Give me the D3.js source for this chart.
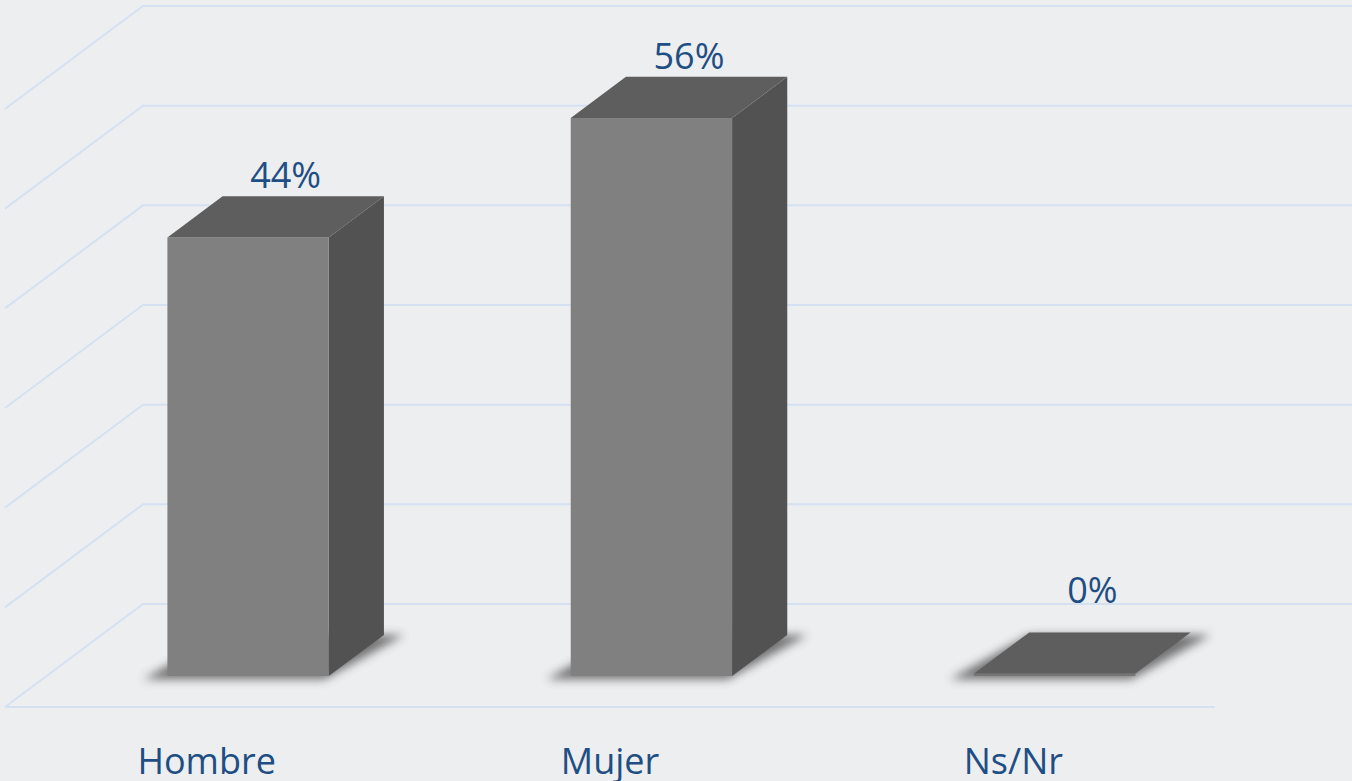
<!DOCTYPE html>
<html>
<head>
<meta charset="utf-8">
<script src="https://cdn.jsdelivr.net/npm/d3@7"></script>
<style>
  body { margin: 0; background: #edeef0; }
  text { font-family: "Open Sans", sans-serif; fill: #1f4e84; }
</style>
</head>
<body>
<svg width="1352" height="781"></svg>
<script>
var categories = ["Hombre", "Mujer", "Ns/Nr"];
var values = [44, 56, 0];
var valueLabels = ["44%", "56%", "0%"];
var gridTicks = [0, 10, 20, 30, 40, 50, 60];

var svg = d3.select("svg"),
    floorY = 707,
    depthX = 138, depthY = -103,
    barFront = 0.30, barBack = 0.70;

var x = d3.scaleBand()
    .domain(categories)
    .range([5, 1215])
    .paddingInner(0.6)
    .paddingOuter(0.3);

var h = d3.scaleLinear().domain([0, 60]).range([0, 598]);

// project a point: front x, value, depth fraction
function pt(px, v, f) {
    return [px + depthX * f, floorY + depthY * f - h(v)];
}

var defs = svg.append("defs");
defs.append("filter").attr("id", "blur")
    .attr("x", "-30%").attr("y", "-30%").attr("width", "160%").attr("height", "160%")
    .append("feGaussianBlur").attr("stdDeviation", 5);

// walls
var grid = svg.append("g")
    .attr("fill", "none")
    .attr("stroke", "#d5e1f1")
    .attr("stroke-width", 2);

grid.selectAll(".grid")
    .data(gridTicks)
    .enter().append("polyline")
    .attr("points", function (d) {
        var a = pt(5, d, 0), b = pt(5, d, 1), c = pt(1215, d, 1);
        return [a, b, c].join(" ");
    });

grid.append("line")
    .attr("x1", 5).attr("y1", floorY)
    .attr("x2", 1215).attr("y2", floorY);

var data = categories.map(function (c, i) {
    return { name: c, value: values[i], label: valueLabels[i] };
});

var bar = svg.selectAll(".bar")
    .data(data)
    .enter().append("g")
    .attr("class", "bar");

// shadow
bar.append("polygon")
    .attr("fill", "#4a4a4a")
    .attr("opacity", 0.75)
    .attr("filter", "url(#blur)")
    .attr("points", function (d) {
        var l = x(d.name) - 20, r = x(d.name) + x.bandwidth() + 20;
        return [pt(l, 0, barFront - 0.03), pt(r - 20, 0, barFront - 0.03),
                pt(r, 0, barBack), pt(l + 20, 0, barBack)].join(" ");
    });

function face(d, corners) {
    return corners.map(function (c) { return pt(c[0], c[1], c[2]); }).join(" ");
}

// side
bar.filter(function (d) { return d.value > 0; })
    .append("polygon")
    .attr("fill", "#525252")
    .attr("points", function (d) {
        var r = x(d.name) + x.bandwidth();
        return face(d, [[r, 0, barFront], [r, 0, barBack], [r, d.value, barBack], [r, d.value, barFront]]);
    });

// front
bar.append("polygon")
    .attr("fill", function (d) { return d.value > 0 ? "#808080" : "#757575"; })
    .attr("points", function (d) {
        var l = x(d.name), r = l + x.bandwidth();
        var top = d.value > 0 ? d.value : 0.25;
        return face(d, [[l, 0, barFront], [r, 0, barFront], [r, top, barFront], [l, top, barFront]]);
    });

// top
bar.append("polygon")
    .attr("fill", "#5e5e5e")
    .attr("points", function (d) {
        var l = x(d.name), r = l + x.bandwidth();
        var top = d.value > 0 ? d.value : 0.25;
        return face(d, [[l, top, barFront], [r, top, barFront], [r, top, barBack], [l, top, barBack]]);
    });

// value labels
bar.append("text")
    .attr("text-anchor", "middle")
    .attr("font-size", 36)
    .attr("x", function (d) {
        var c = x(d.name) + x.bandwidth() / 2;
        return pt(c, d.value, (barFront + barBack) / 2)[0] + 10;
    })
    .attr("y", function (d) {
        return Math.min(pt(0, d.value, barBack)[1] - 8, pt(0, 0, barFront)[1] - 73);
    })
    .text(function (d) { return d.label; });

// category labels
svg.selectAll(".cat")
    .data(categories)
    .enter().append("text")
    .attr("class", "cat")
    .attr("text-anchor", "middle")
    .attr("font-size", 36)
    .attr("x", function (d) { return x(d) + x.bandwidth() / 2; })
    .attr("y", 774)
    .text(function (d) { return d; });
</script>
</body>
</html>
